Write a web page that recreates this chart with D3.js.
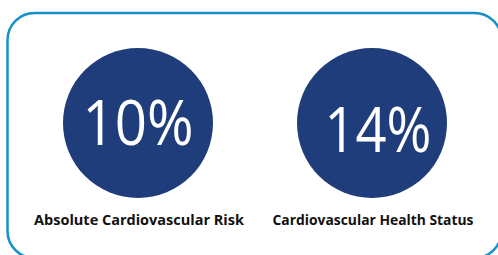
<!DOCTYPE html>
<html><head><meta charset="utf-8">
<script src="https://cdn.jsdelivr.net/npm/d3@7"></script>
<style>html,body{margin:0;padding:0;background:#fff;}svg{display:block;}</style>
</head><body>
<script>
const categories = ["Absolute Cardiovascular Risk", "Cardiovascular Health Status"];
const values = [10, 14];
const valueLabels = ["10%", "14%"];

const W = 498, H = 255;
const svg = d3.select("body").append("svg").attr("width", W).attr("height", H);

svg.append("rect").attr("x", 7.5).attr("y", 13).attr("width", 494).attr("height", 245)
  .attr("rx", 27).attr("ry", 27).attr("fill", "none").attr("stroke", "#1590c9").attr("stroke-width", 2.5);

const x = d3.scalePoint().domain(categories).range([138, 372]);
const cy = 123, r = 75;

const g = svg.selectAll("g.item").data(categories).join("g").attr("class", "item");
g.append("circle").attr("cx", d => x(d)).attr("cy", cy).attr("r", r).attr("fill", "#1f3d7a");

const numOffsets = [0, 6];
const numBase = [145, 152];
const numW = [111, 107];
g.append("text").attr("class", "num")
  .attr("x", (d, i) => x(d) + numOffsets[i]).attr("y", (d, i) => numBase[i])
  .attr("text-anchor", "middle").attr("fill", "#fff")
  .attr("textLength", (d, i) => numW[i]).attr("lengthAdjust", "spacingAndGlyphs")
  .style("font-family", "'Open Sans', sans-serif").style("font-weight", 400).style("font-size", "63px")
  .text((d, i) => valueLabels[i]);

g.append("text").attr("class", "lab")
  .attr("x", d => x(d) + 1).attr("y", 225)
  .attr("text-anchor", "middle").attr("fill", "#111")
  .style("font-family", "'Open Sans', sans-serif").style("font-weight", 700).style("font-size", "13px")
  .text(d => d);

const labW = [210, 201];
svg.selectAll("text.lab").each(function(d, i) {
  const w = this.getComputedTextLength();
  d3.select(this).style("font-size", (13 * labW[i] / w) + "px");
});
</script>
</body></html>
